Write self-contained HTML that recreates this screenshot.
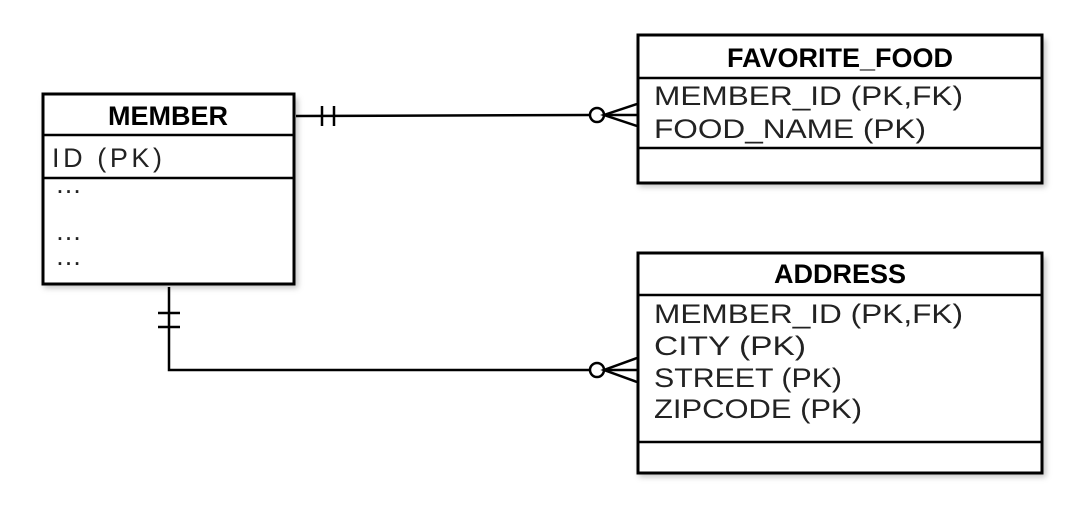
<!DOCTYPE html>
<html><head><meta charset="utf-8"><style>html,body{margin:0;padding:0;background:#fff}</style></head>
<body>
<svg width="1077" height="514" viewBox="0 0 1077 514" xmlns="http://www.w3.org/2000/svg" font-family="Liberation Sans, sans-serif">
<defs><filter id="sh" x="-10%" y="-10%" width="130%" height="130%"><feGaussianBlur stdDeviation="3"/></filter></defs>
<g fill="#888" opacity="0.5" filter="url(#sh)">
<rect x="44" y="98" width="254" height="190"/>
<rect x="639" y="39" width="407" height="148"/>
<rect x="639" y="257" width="407" height="220"/>
</g>
<g fill="#fff" stroke="#000" stroke-width="3">
<rect x="43" y="94" width="251" height="190"/>
<rect x="638" y="35" width="404" height="148"/>
<rect x="638" y="253" width="404" height="220"/>
</g>
<g stroke="#000" stroke-width="2.5">
<line x1="43" y1="135" x2="294" y2="135"/>
<line x1="43" y1="178" x2="294" y2="178"/>
<line x1="638" y1="78" x2="1042" y2="78"/>
<line x1="638" y1="148" x2="1042" y2="148"/>
<line x1="638" y1="295" x2="1042" y2="295"/>
<line x1="638" y1="442" x2="1042" y2="442"/>
</g>
<g font-weight="bold" font-size="27" text-anchor="middle">
<text x="168" y="125">MEMBER</text>
<text x="840" y="67">FAVORITE_FOOD</text>
<text x="840" y="283">ADDRESS</text>
</g>
<g font-size="27" fill="#222">
<text x="52" y="167" textLength="110">ID (PK)</text>
<text x="55" y="193">…</text>
<text x="55" y="240">…</text>
<text x="55" y="265">…</text>
<text x="654" y="105" textLength="309" lengthAdjust="spacingAndGlyphs">MEMBER_ID (PK,FK)</text>
<text x="654" y="138" textLength="272" lengthAdjust="spacingAndGlyphs">FOOD_NAME (PK)</text>
<text x="654" y="323" textLength="309" lengthAdjust="spacingAndGlyphs">MEMBER_ID (PK,FK)</text>
<text x="654" y="355" textLength="152" lengthAdjust="spacingAndGlyphs">CITY (PK)</text>
<text x="654" y="387" textLength="188" lengthAdjust="spacingAndGlyphs">STREET (PK)</text>
<text x="654" y="418" textLength="208" lengthAdjust="spacingAndGlyphs">ZIPCODE (PK)</text>
</g>
<g stroke="#000" stroke-width="2.5" fill="none">
<polyline points="296,116 590,115"/>
<line x1="322" y1="106" x2="322" y2="126"/>
<line x1="334" y1="106" x2="334" y2="126"/>
<circle cx="597" cy="115" r="7" fill="#fff"/>
<polyline points="637,104 604,115 637,126"/>
<line x1="604" y1="115" x2="637" y2="115"/>
<polyline points="169,287 169,370 590,370"/>
<line x1="158" y1="313" x2="180" y2="313"/>
<line x1="158" y1="327" x2="180" y2="327"/>
<circle cx="597" cy="370" r="7" fill="#fff"/>
<polyline points="637,358 604,370 637,382"/>
<line x1="604" y1="370" x2="637" y2="370"/>
</g>
</svg>
</body></html>
